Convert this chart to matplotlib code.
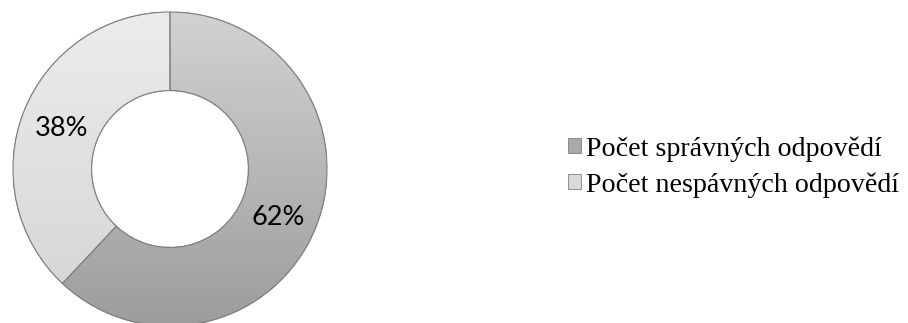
import numpy as np
import matplotlib.pyplot as plt
from matplotlib.patches import Patch, Wedge
from matplotlib.colors import LinearSegmentedColormap

labels = ["Počet správných odpovědí", "Počet nespávných odpovědí"]
values = [62, 38]
colors = ["#b4b4b4", "#dedede"]
# top -> bottom shading of each ring segment
shades = [("#d2d2d2", "#9c9c9c"), ("#ececec", "#d4d4d4")]

fig = plt.figure(figsize=(9.08, 3.23), dpi=100)

# pie axes: centre ~ (170, 169) px, radius ~ 157 px
cx, cy, r = 170, 169, 157
W, H = 908, 323
ax = fig.add_axes([(cx - r) / W, (H - cy - r) / H, 2 * r / W, 2 * r / H])

wedges, texts, autotexts = ax.pie(
    values,
    colors=colors,
    startangle=90,
    counterclock=False,
    radius=1.0,
    autopct="%1.0f%%",
    pctdistance=0.75,
    wedgeprops=dict(width=0.5, edgecolor="#808080", linewidth=0.8),
    textprops=dict(fontsize=19.5, family=["Lato", "DejaVu Sans"], color="black"),
)

# vertical gradient inside each wedge (the original has a soft 3-D look)
grad = np.linspace(0, 1, 256).reshape(-1, 1)
for w, (top, bot) in zip(wedges, shades):
    cmap = LinearSegmentedColormap.from_list("g", [top, bot])
    im = ax.imshow(grad, cmap=cmap, extent=(-1, 1, -1, 1), origin="upper",
                   aspect="auto", zorder=w.get_zorder() + 0.1)
    im.set_clip_path(w)
    outline = Wedge(w.center, w.r, w.theta1, w.theta2, width=w.width,
                    facecolor="none", edgecolor="#808080", linewidth=0.8,
                    zorder=w.get_zorder() + 0.2)
    ax.add_patch(outline)

for t in autotexts:
    t.set_zorder(5)
# nudge labels to where the original has them
autotexts[0].set_position((0.69, -0.31))
autotexts[1].set_position((-0.69, 0.26))

ax.set_xlim(-1, 1)
ax.set_ylim(-1, 1)
ax.set_aspect("equal")
ax.axis("off")

handles = [Patch(facecolor=c, edgecolor="#808080", linewidth=0.6) for c in ["#a8a8a8", "#d8d8d8"]]
leg = fig.legend(
    handles, labels,
    loc="center left",
    bbox_to_anchor=(557 / W, 1 - 167 / H),
    frameon=False,
    prop=dict(family=["Liberation Serif", "DejaVu Serif"], size=20.2),
    handlelength=0.45,
    handleheight=0.45,
    handletextpad=0.2,
    labelspacing=0.38,
    borderaxespad=0,
)

fig.savefig("out.png", dpi=100)
